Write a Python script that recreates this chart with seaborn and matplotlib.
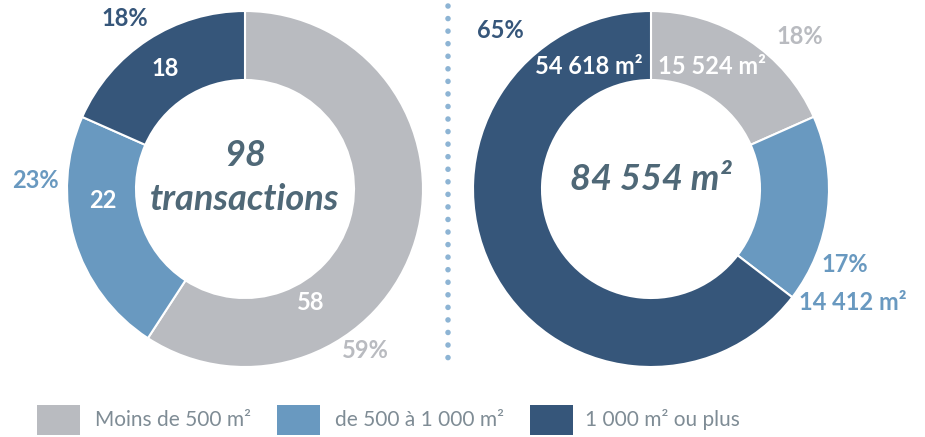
import matplotlib
matplotlib.use("Agg")
import matplotlib.pyplot as plt
import seaborn as sns
import numpy as np
from matplotlib.patches import Rectangle

sns.set_theme(style="white")
plt.rcParams['font.family'] = ['Lato', 'DejaVu Sans']

categories = ["Moins de 500 m²", "de 500 à 1 000 m²", "1 000 m² ou plus"]
colors = ["#b9bbc0", "#6999c0", "#36567a"]

left_values = [58, 22, 18]
left_pct = ["59%", "23%", "18%"]
left_inner = ["58", "22", "18"]

right_values = [15524, 14412, 54618]
right_pct = ["18%", "17%", "65%"]
right_inner = ["15 524 m²", "14 412 m²", "54 618 m²"]

W, H = 925, 437
fig = plt.figure(figsize=(W / 100, H / 100), dpi=100)
ax = fig.add_axes([0, 0, 1, 1])

def Y(y):
    return H - y

R, width = 178, 69
for vals, cx in [(left_values, 245), (right_values, 651)]:
    ax.pie(vals, colors=colors, center=(cx, Y(189)), radius=R, startangle=90,
           counterclock=False,
           wedgeprops=dict(width=width, edgecolor="white", linewidth=1.5))

ax.set_xlim(0, W)
ax.set_ylim(0, H)
ax.set_aspect("equal")
ax.axis("off")

lbl = dict(fontsize=17, fontweight="bold", ha="center", va="center")
# left donut labels
ax.text(125, Y(18), left_pct[2], color=colors[2], **lbl)
ax.text(165, Y(68), left_inner[2], color="white", **lbl)
ax.text(35, Y(181), left_pct[1], color=colors[1], **lbl)
ax.text(103, Y(201), left_inner[1], color="white", **lbl)
ax.text(311, Y(303), left_inner[0], color="white", **lbl)
ax.text(365, Y(351), left_pct[0], color=colors[0], **lbl)
# right donut labels
ax.text(500, Y(31), right_pct[2], color=colors[2], **lbl)
ax.text(589, Y(66), right_inner[2], color="white", **lbl)
ax.text(712, Y(66), right_inner[0], color="white", **lbl)
ax.text(800, Y(36), right_pct[0], color=colors[0], **lbl)
ax.text(845, Y(265), right_pct[1], color=colors[1], **lbl)
ax.text(853, Y(303), right_inner[1], color=colors[1], **lbl)

center_color = "#4f6877"
ctr = dict(fontsize=26, fontweight="bold", style="italic", ha="center", va="center", color=center_color)
ax.text(245, Y(155), "98", **ctr)
ax.text(245, Y(199), "transactions", **ctr)
ax.text(651, Y(180), "84 554 m²", **ctr)

# dotted separator
ax.plot([448, 448], [Y(6), Y(361)], color="#8db4d4", linewidth=4,
        linestyle=(0, (0.01, 2.25)), dash_capstyle="round", solid_capstyle="round")

# legend
leg_sq = [37, 277, 530]
leg_tx = [95, 335, 585]
for c, name, sx, tx in zip(colors, categories, leg_sq, leg_tx):
    ax.add_patch(Rectangle((sx, Y(435)), 43, 30, color=c, lw=0))
    ax.text(tx, Y(420), name, fontsize=15, fontweight="normal", color="#7f8c95",
            ha="left", va="center")

fig.savefig("out.png", dpi=100)
